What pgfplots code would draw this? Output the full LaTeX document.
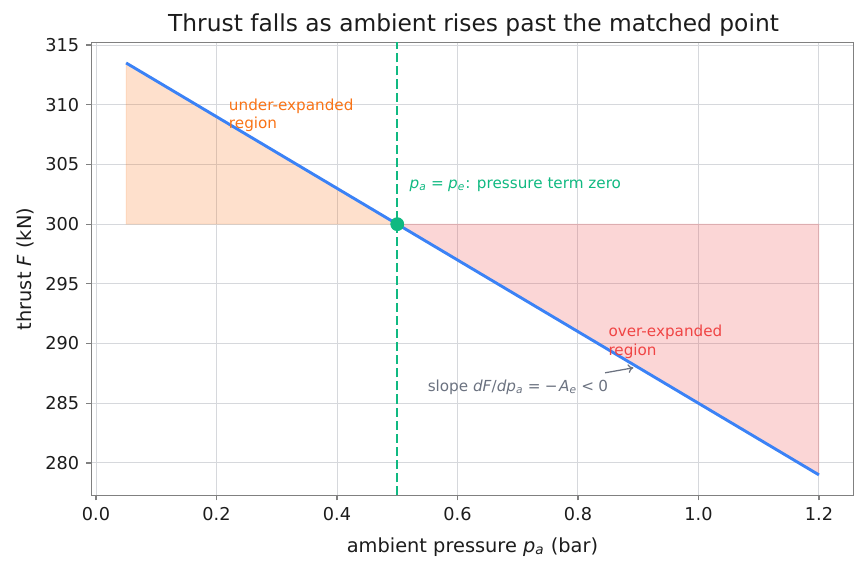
\documentclass[border=0pt]{standalone}
\usepackage{fontspec}
\setmainfont{DejaVu Sans}
\usepackage{pgfplots}
\pgfplotsset{compat=1.18}
\usetikzlibrary{arrows.meta}

\definecolor{lineblue}{HTML}{3B82F6}
\definecolor{matchgreen}{HTML}{10B981}
\definecolor{underorange}{HTML}{F97316}
\definecolor{overred}{HTML}{EF4444}
\definecolor{notegray}{HTML}{6B7280}
\definecolor{framec}{HTML}{808080}
\definecolor{gridc}{HTML}{D6D8DC}
\definecolor{textc}{HTML}{1C1C1C}

\newcommand\var[2]{\textit{#1}\textsubscript{\textit{#2}}}
\newcommand\rel[1]{\hspace{0.28em}#1\hspace{0.28em}}

\begin{document}
\begin{tikzpicture}
\begin{axis}[
  at={(43.92pt,37.2pt)}, anchor=south west,
  scale only axis, width=365.8pt, height=217.5pt,
  xmin=-0.0075, xmax=1.2575, ymin=277.275, ymax=315.225,
  xtick={0,0.2,0.4,0.6,0.8,1.0,1.2},
  ytick={280,285,290,295,300,305,310,315},
  xtick pos=lower, ytick pos=left,
  tick align=outside, major tick length=2.4pt,
  grid=major, grid style={gridc, line width=0.45pt},
  axis line style={framec, line width=0.6pt},
  tick style={framec, line width=0.6pt},
  ticklabel style={font=\fontsize{8.5}{10}\selectfont, text=textc},
  /pgf/number format/assume math mode=true,
  xticklabel style={/pgf/number format/.cd, fixed, fixed zerofill, precision=1},
  yticklabel style={/pgf/number format/.cd, fixed, precision=0},
  clip=false,
]
% under-expanded wedge (left of the matched point)
\addplot[draw=underorange, draw opacity=0.12, line width=0.5pt,
  fill=underorange, fill opacity=0.22]
  coordinates {(0.05,300) (0.05,313.5) (0.5,300)} -- cycle;
% over-expanded wedge (right of the matched point)
\addplot[draw=overred, draw opacity=0.12, line width=0.5pt,
  fill=overred, fill opacity=0.22]
  coordinates {(0.5,300) (1.2,300) (1.2,279)} -- cycle;
% matched condition p_a = p_e
\addplot[matchgreen, line width=1.2pt, dash pattern=on 4.4pt off 1.9pt]
  coordinates {(0.5,277.275) (0.5,315.225)};
% thrust vs ambient pressure
\addplot[lineblue, line width=1.4pt] coordinates {(0.05,313.5) (1.2,279)};
\addplot[only marks, mark=*, mark size=3.1pt, matchgreen] coordinates {(0.5,300)};

\begin{scope}[every node/.style={font=\fontsize{7.3}{8.7}\selectfont, inner sep=0pt}]
\node[anchor=base west, text=underorange] at (axis cs:0.22,309.5) {under-expanded};
\node[anchor=base west, text=underorange] at (axis cs:0.22,308) {region};
\node[anchor=base west, text=matchgreen] at (axis cs:0.52,303)
  {\var{p}{a}\rel{=}\var{p}{e}: pressure term zero};
\node[anchor=base west, text=overred] at (axis cs:0.85,290.55) {over-expanded};
\node[anchor=base west, text=overred] at (axis cs:0.85,289) {region};
\node[anchor=base west, text=notegray] at (axis cs:0.55,286)
  {slope \textit{dF}/\var{dp}{a}\rel{=}−\hspace{0.1em}\var{A}{e}\rel{<}0};
\end{scope}
\draw[notegray, line width=0.6pt, -{To[length=2.6pt,width=4.2pt]}]
  (axis cs:0.845,287.55) -- (axis cs:0.892,287.97);
\end{axis}

\node[anchor=base, font=\fontsize{11.2}{13}\selectfont, text=textc] at (227.3pt,260.1pt)
  {Thrust falls as ambient rises past the matched point};
\node[anchor=base, font=\fontsize{9.3}{11}\selectfont, text=textc] at (226.8pt,10pt)
  {ambient pressure \var{p}{a} (bar)};
\node[anchor=base, rotate=90, font=\fontsize{9.3}{11}\selectfont, text=textc] at (14.9pt,145.9pt)
  {thrust \textit{F} (kN)};

\pgfresetboundingbox
\path (0pt,0pt) rectangle (416.16pt,275.04pt);
\end{tikzpicture}
\end{document}
